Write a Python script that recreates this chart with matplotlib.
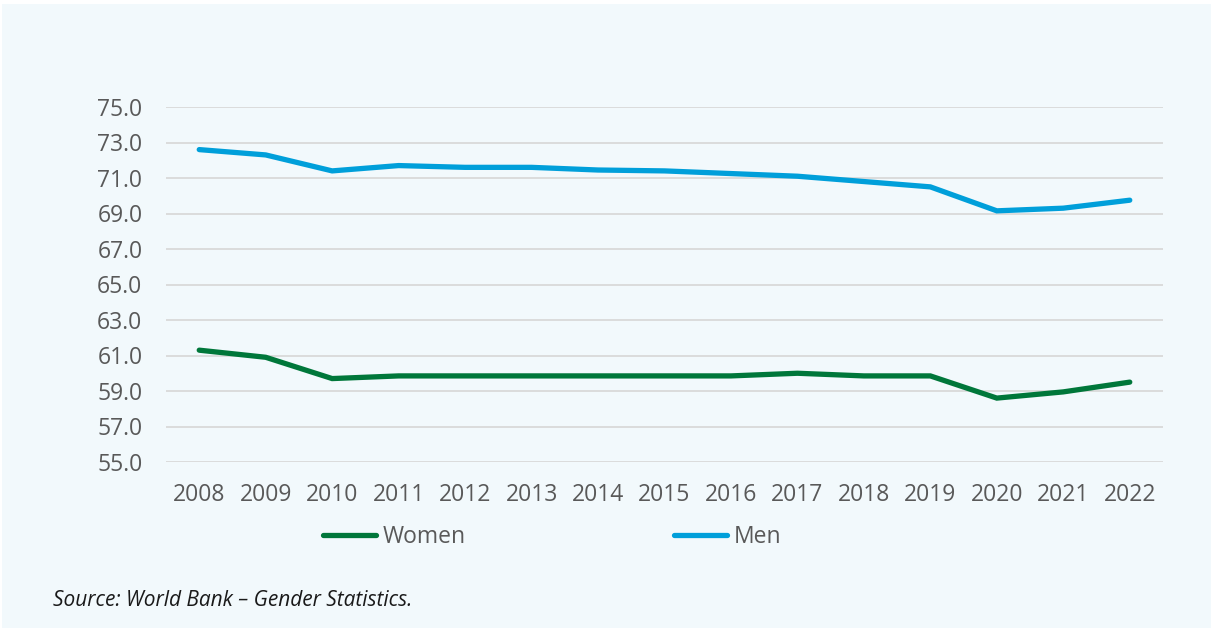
import matplotlib.pyplot as plt
from matplotlib.patches import Rectangle

# Data
years = [2008, 2009, 2010, 2011, 2012, 2013, 2014, 2015,
         2016, 2017, 2018, 2019, 2020, 2021, 2022]
women = [61.3, 60.9, 59.7, 59.85, 59.85, 59.85, 59.85, 59.85,
         59.85, 60.0, 59.85, 59.85, 58.6, 58.95, 59.5]
men = [72.6, 72.3, 71.4, 71.7, 71.6, 71.6, 71.45, 71.4,
       71.25, 71.1, 70.8, 70.5, 69.15, 69.3, 69.75]
y_ticks = [55, 57, 59, 61, 63, 65, 67, 69, 71, 73, 75]

plt.rcParams['font.family'] = ['Open Sans', 'DejaVu Sans']

bg = '#F2F9FC'
text_col = '#595959'

fig = plt.figure(figsize=(12.12, 6.28), dpi=100)
fig.patch.set_facecolor('white')
fig.patches.append(Rectangle((2 / 1212, 0), 1 - 3 / 1212, 1 - 4 / 628,
                             transform=fig.transFigure, facecolor=bg,
                             edgecolor='none', zorder=-10))

ax = fig.add_axes([166 / 1212, 1 - 462 / 628, 997 / 1212, 355 / 628])
ax.set_facecolor(bg)
ax.patch.set_alpha(0)

ax.plot(years, women, color='#00773A', lw=3.8, solid_capstyle='round',
        solid_joinstyle='miter', label='Women', zorder=3)
ax.plot(years, men, color='#009FDA', lw=3.8, solid_capstyle='round',
        solid_joinstyle='miter', label='Men', zorder=3)

ax.set_xlim(2007.5, 2022.5)
ax.set_ylim(55, 75)
ax.set_yticks(y_ticks)
ax.set_yticklabels([f'{v:.1f}' for v in y_ticks])
ax.set_xticks(years)
ax.set_xticklabels([str(y) for y in years])
ax.grid(axis='y', color='#D9D9D9', lw=1.3, zorder=0)
ax.tick_params(length=0, labelsize=16.5, colors=text_col)
ax.tick_params(axis='y', pad=17)
ax.tick_params(axis='x', pad=15)
for s in ax.spines.values():
    s.set_visible(False)

fig.legend(loc='center left', bbox_to_anchor=(323 / 1212, 1 - 537 / 628),
           ncol=2, frameon=False, fontsize=16.5, handlelength=2.3,
           handletextpad=0.3, columnspacing=9.1, borderpad=0,
           borderaxespad=0, labelcolor=text_col)

fig.text(53 / 1212, 1 - 601 / 628, 'Source: World Bank \u2013 Gender Statistics.',
         fontsize=15, style='italic', color='#1a1a1a', va='center', ha='left')

fig.savefig('out.png', dpi=100, facecolor=fig.get_facecolor())
